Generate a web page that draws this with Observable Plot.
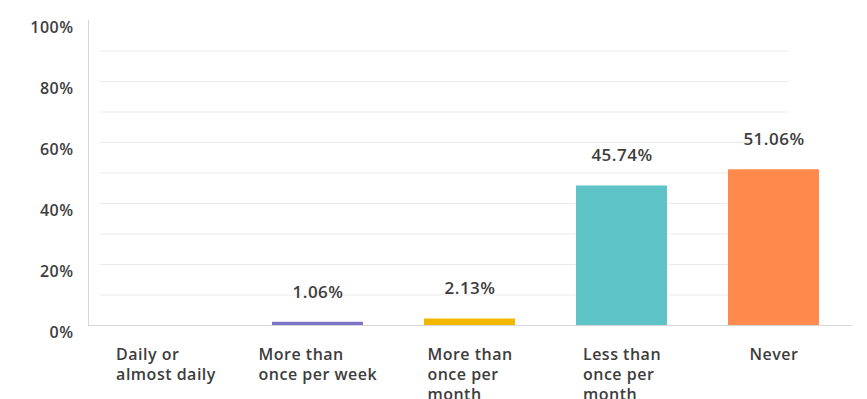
<!DOCTYPE html>
<html>
<head>
<meta charset="utf-8">
<script src="https://cdn.jsdelivr.net/npm/d3@7"></script>
<script src="https://cdn.jsdelivr.net/npm/@observablehq/plot@0.6"></script>
<style>
  html, body { margin: 0; padding: 0; background: #ffffff; }
</style>
</head>
<body>
<div id="chart"></div>
<script>
const categories = ["Daily or almost daily", "More than once per week", "More than once per month", "Less than once per month", "Never"];
const tickLabels = ["Daily or\nalmost daily", "More than\nonce per week", "More than\nonce per\nmonth", "Less than\nonce per\nmonth", "Never"];
const values = [0, 1.06, 2.13, 45.74, 51.06];
const colors = ["#7b76c8", "#7b76c8", "#f2b800", "#5ec3c7", "#ff8a4c"];
const yTicks = [0, 20, 40, 60, 80, 100];
const gridTicks = [10, 20, 30, 40, 50, 60, 70, 80, 90];

const data = categories.map((c, i) => ({category: c, value: values[i]}));
const labelOf = new Map(categories.map((c, i) => [c, tickLabels[i]]));

const chart = Plot.plot({
  width: 867,
  height: 399,
  marginTop: 20,
  marginBottom: 74,
  marginLeft: 88,
  marginRight: 15,
  style: {fontFamily: "'Open Sans', sans-serif", fontSize: "16px", fontWeight: 600, letterSpacing: "0.5px", color: "#3d3d3d", background: "#ffffff"},
  x: {domain: categories, paddingInner: 0.4, paddingOuter: 0.2, label: null},
  y: {domain: [0, 100], label: null},
  color: {domain: categories, range: colors},
  marks: [
    Plot.gridY(gridTicks, {stroke: "#ebebeb", strokeOpacity: 1, insetLeft: 12, insetRight: 64}),
    Plot.axisY(yTicks, {tickSize: 0, tickPadding: 15, dy: 7, tickFormat: d => d + "%"}),
    Plot.axisX({tickSize: 0, tickPadding: 20, lineHeight: 1.25, tickFormat: d => labelOf.get(d)}),
    Plot.barY(data, {x: "category", y: "value", fill: "category"}),
    Plot.frame({anchor: "left", stroke: "#d6d6d6"}),
    Plot.ruleY([0], {stroke: "#d6d6d6"}),
    Plot.text(data.filter(d => d.value > 0), {x: "category", y: "value", text: d => d.value.toFixed(2) + "%", dy: -30, fontSize: 17, fill: "#3d3d3d"})
  ]
});

document.getElementById("chart").appendChild(chart);

// left-align multi-line x tick labels within a block centered on the band
chart.querySelectorAll('[aria-label="x-axis tick label"] text').forEach(t => {
  const w = t.getBBox().width;
  t.setAttribute("text-anchor", "start");
  const spans = t.querySelectorAll("tspan");
  if (spans.length) spans.forEach(s => s.setAttribute("x", -w / 2));
  else t.setAttribute("x", -w / 2);
});
</script>
</body>
</html>
